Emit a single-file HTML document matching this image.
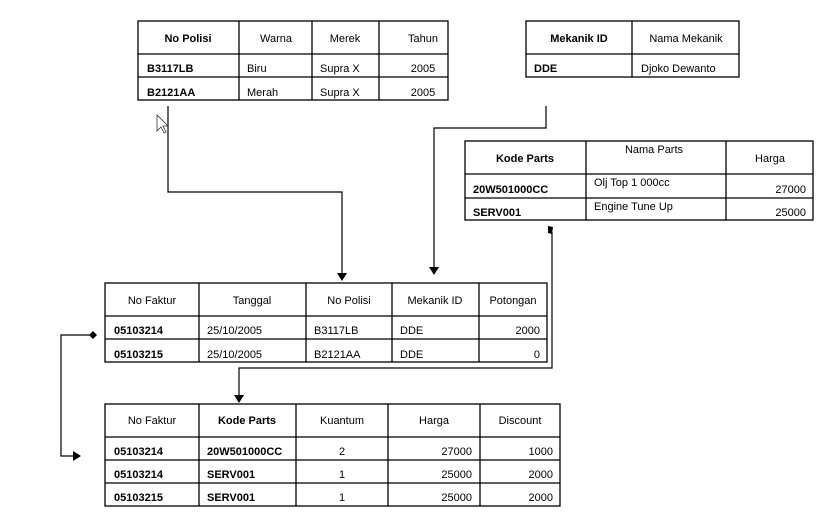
<!DOCTYPE html>
<html><head><meta charset="utf-8"><style>
html,body{margin:0;padding:0;background:#fff;}
svg{display:block;}
text{font-family:"Liberation Sans",sans-serif;font-size:11px;fill:#000;}
.b{font-weight:bold;}
.c{text-anchor:middle;}
.r{text-anchor:end;}
</style></head><body>
<svg width="833" height="526" viewBox="0 0 833 526" xmlns="http://www.w3.org/2000/svg">
<g stroke="#000" stroke-width="1.3" fill="none">
<rect x="138" y="21" width="310" height="79"/>
<line x1="138" y1="54" x2="448" y2="54"/><line x1="138" y1="77" x2="448" y2="77"/>
<line x1="239" y1="21" x2="239" y2="100"/><line x1="312" y1="21" x2="312" y2="100"/><line x1="379" y1="21" x2="379" y2="100"/>
<rect x="526" y="21" width="213" height="56"/>
<line x1="526" y1="54" x2="739" y2="54"/><line x1="632" y1="21" x2="632" y2="77"/>
<rect x="465" y="141" width="348" height="79"/>
<line x1="465" y1="174" x2="813" y2="174"/><line x1="465" y1="198" x2="813" y2="198"/>
<line x1="586" y1="141" x2="586" y2="220"/><line x1="726" y1="141" x2="726" y2="220"/>
<rect x="105" y="283" width="442" height="79"/>
<line x1="105" y1="316" x2="547" y2="316"/><line x1="105" y1="339" x2="547" y2="339"/>
<line x1="199" y1="283" x2="199" y2="362"/><line x1="306" y1="283" x2="306" y2="362"/><line x1="392" y1="283" x2="392" y2="362"/><line x1="479" y1="283" x2="479" y2="362"/>
<rect x="105" y="404" width="455" height="102"/>
<line x1="105" y1="437" x2="560" y2="437"/><line x1="105" y1="460" x2="560" y2="460"/><line x1="105" y1="483" x2="560" y2="483"/>
<line x1="199" y1="404" x2="199" y2="506"/><line x1="296" y1="404" x2="296" y2="506"/><line x1="388" y1="404" x2="388" y2="506"/><line x1="480" y1="404" x2="480" y2="506"/>
<polyline points="168,106 168,192 342,192 342,274" stroke-width="1.2"/>
<polyline points="546,106 546,128 434,128 434,268" stroke-width="1.2"/>
<polyline points="552,232 552,368 239,368 239,396" stroke-width="1.2"/>
<polyline points="93,335 61,335 61,456 74,456" stroke-width="1.2"/>
</g>
<g fill="#000">
<polygon points="337,273 347,273 342,281"/>
<polygon points="429,267 439,267 434,275"/>
<polygon points="234,395 244,395 239,403"/>
<polygon points="73,451 73,461 81,456"/>
<polygon points="93,331 97,335 93,339 89,335"/>
<polygon points="548,226 553,227 552,234 548,233"/>
</g>
<path d="M157,115 L157,131 L161,127 L164,133 L166,132 L163,126 L168,126 Z" fill="#fff" stroke="#333" stroke-width="0.8"/>
<text x="188" y="42" class="b c">No Polisi</text>
<text x="276" y="42" class="c">Warna</text>
<text x="345" y="42" class="c">Merek</text>
<text x="423" y="42" class="c">Tahun</text>
<text x="147" y="72" class="b">B3117LB</text>
<text x="247" y="72">Biru</text>
<text x="320" y="72">Supra X</text>
<text x="423" y="72" class="c">2005</text>
<text x="147" y="96" class="b">B2121AA</text>
<text x="247" y="96">Merah</text>
<text x="320" y="96">Supra X</text>
<text x="423" y="96" class="c">2005</text>
<text x="579" y="42" class="b c">Mekanik ID</text>
<text x="686" y="42" class="c">Nama Mekanik</text>
<text x="534" y="72" class="b">DDE</text>
<text x="641" y="72">Djoko Dewanto</text>
<text x="525" y="162" class="b c">Kode Parts</text>
<text x="654" y="153" class="c">Nama Parts</text>
<text x="770" y="162" class="c">Harga</text>
<text x="473" y="193" class="b">20W501000CC</text>
<text x="594" y="186">Olj Top 1 000cc</text>
<text x="806" y="193" class="r">27000</text>
<text x="473" y="216" class="b">SERV001</text>
<text x="594" y="210">Engine Tune Up</text>
<text x="806" y="216" class="r">25000</text>
<text x="152" y="304" class="c">No Faktur</text>
<text x="252" y="304" class="c">Tanggal</text>
<text x="349" y="304" class="c">No Polisi</text>
<text x="435" y="304" class="c">Mekanik ID</text>
<text x="513" y="304" class="c">Potongan</text>
<text x="114" y="334" class="b">05103214</text>
<text x="207" y="334">25/10/2005</text>
<text x="314" y="334">B3117LB</text>
<text x="400" y="334">DDE</text>
<text x="540" y="334" class="r">2000</text>
<text x="114" y="358" class="b">05103215</text>
<text x="207" y="358">25/10/2005</text>
<text x="314" y="358">B2121AA</text>
<text x="400" y="358">DDE</text>
<text x="540" y="358" class="r">0</text>
<text x="152" y="424" class="c">No Faktur</text>
<text x="247" y="424" class="b c">Kode Parts</text>
<text x="342" y="424" class="c">Kuantum</text>
<text x="434" y="424" class="c">Harga</text>
<text x="520" y="424" class="c">Discount</text>
<text x="114" y="455" class="b">05103214</text>
<text x="207" y="455" class="b">20W501000CC</text>
<text x="342" y="455" class="c">2</text>
<text x="472" y="455" class="r">27000</text>
<text x="553" y="455" class="r">1000</text>
<text x="114" y="478" class="b">05103214</text>
<text x="207" y="478" class="b">SERV001</text>
<text x="342" y="478" class="c">1</text>
<text x="472" y="478" class="r">25000</text>
<text x="553" y="478" class="r">2000</text>
<text x="114" y="501" class="b">05103215</text>
<text x="207" y="501" class="b">SERV001</text>
<text x="342" y="501" class="c">1</text>
<text x="472" y="501" class="r">25000</text>
<text x="553" y="501" class="r">2000</text>
</svg>
</body></html>
